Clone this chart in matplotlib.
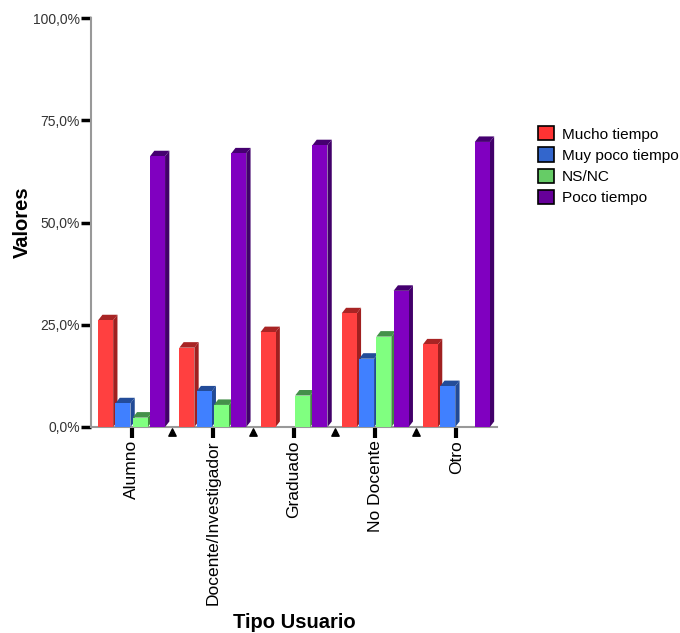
import matplotlib
matplotlib.use("Agg")
import matplotlib.pyplot as plt
from matplotlib.patches import Polygon, Patch
from matplotlib.ticker import FuncFormatter, FixedLocator
import matplotlib.transforms as mtrans
import numpy as np

plt.rcParams['font.family'] = ['Liberation Sans', 'DejaVu Sans']

categories = ["Alumno", "Docente/Investigador", "Graduado", "No Docente", "Otro"]
series_names = ["Mucho tiempo", "Muy poco tiempo", "NS/NC", "Poco tiempo"]
mucho = [26.1, 19.4, 23.2, 27.8, 20.2]
muy_poco = [5.8, 8.7, 0.0, 16.7, 10.0]
nsnc = [2.3, 5.4, 7.7, 22.1, 0.0]
poco = [66.2, 66.9, 68.9, 33.3, 69.7]
yticks = [0, 25, 50, 75, 100]

values = [mucho, muy_poco, nsnc, poco]
front_colors = ["#FF4040", "#4080FF", "#80FF80", "#8000C0"]
side_colors = ["#A02020", "#224A96", "#408A40", "#42006A"]
cap_colors = ["#A82424", "#234C99", "#44904A", "#450070"]
legend_colors = ["#FF3333", "#3366CC", "#66CC66", "#660099"]

fig = plt.figure(figsize=(6.8, 6.33), dpi=100)
ax = fig.add_axes([91/680, 1-427/633, (497-91)/680, (427-18)/633])

n = len(categories)
ax.set_xlim(-0.5, n - 0.5)
ax.set_ylim(0, 100)

# depth in data units from pixel depth
fig.canvas.draw()
px_x = ax.transData.transform((1, 0))[0] - ax.transData.transform((0, 0))[0]
px_y = ax.transData.transform((0, 1))[1] - ax.transData.transform((0, 0))[1]
dx = 4.3 / px_x
dy = 5.5 / px_y

pitch = 0.213
width = 0.185
x = np.arange(n)
for ci in range(n):
    for si in range(4):
        h = values[si][ci]
        if h <= 0:
            continue
        x0 = x[ci] + (si - 1.5) * pitch - width / 2
        x1 = x0 + width
        side = Polygon([(x1, 0), (x1 + dx, dy), (x1 + dx, h + dy), (x1, h)],
                       closed=True, facecolor=side_colors[si], edgecolor='none',
                       zorder=3)
        cap = Polygon([(x0, h), (x0 + dx, h + dy), (x1 + dx, h + dy), (x1, h)],
                      closed=True, facecolor=cap_colors[si], edgecolor='none',
                      zorder=3)
        ax.add_patch(side)
        ax.add_patch(cap)
        ax.bar(x0, h, width=width, align='edge', color=front_colors[si],
               edgecolor='none', zorder=3)

# spines
for s in ['top', 'right']:
    ax.spines[s].set_visible(False)
for s in ['left', 'bottom']:
    ax.spines[s].set_color('#999999')
    ax.spines[s].set_linewidth(1.5)
    ax.spines[s].set_zorder(2)

ax.yaxis.set_major_locator(FixedLocator(yticks))
ax.yaxis.set_major_formatter(FuncFormatter(lambda v, p: f"{v:.1f}%".replace('.', ',')))
ax.tick_params(axis='y', direction='out', length=7, width=2.5, color='black',
               labelsize=10, labelcolor='#333333', pad=1)
ax.set_xticks(x)
ax.set_xticklabels(categories, rotation=90, fontsize=12.5)
ax.tick_params(axis='x', direction='out', length=8, width=3, color='black', pad=1.5)

# separator triangles between categories
trans = mtrans.blended_transform_factory(ax.transData, ax.transAxes)
ax.scatter(x[:-1] + 0.5, [-0.0125] * (n - 1), marker='^', s=28, color='black',
           transform=trans, clip_on=False, zorder=4)

fig.text(22/680, 1 - 222/633, "Valores", rotation=90, ha='center', va='center',
         fontsize=14.5, fontweight='bold')
ax.set_xlabel("Tipo Usuario", fontsize=14.5, fontweight='bold', labelpad=6)

handles = [Patch(facecolor=c, edgecolor='black', linewidth=1.2) for c in legend_colors]
fig.legend(handles, series_names, loc='upper left', bbox_to_anchor=(532/680, 1-120/633),
           frameon=False, fontsize=11.1, handlelength=1.05, handleheight=1.05,
           handletextpad=0.5, labelspacing=0.38, borderaxespad=0)

fig.savefig("out.png", dpi=100)
